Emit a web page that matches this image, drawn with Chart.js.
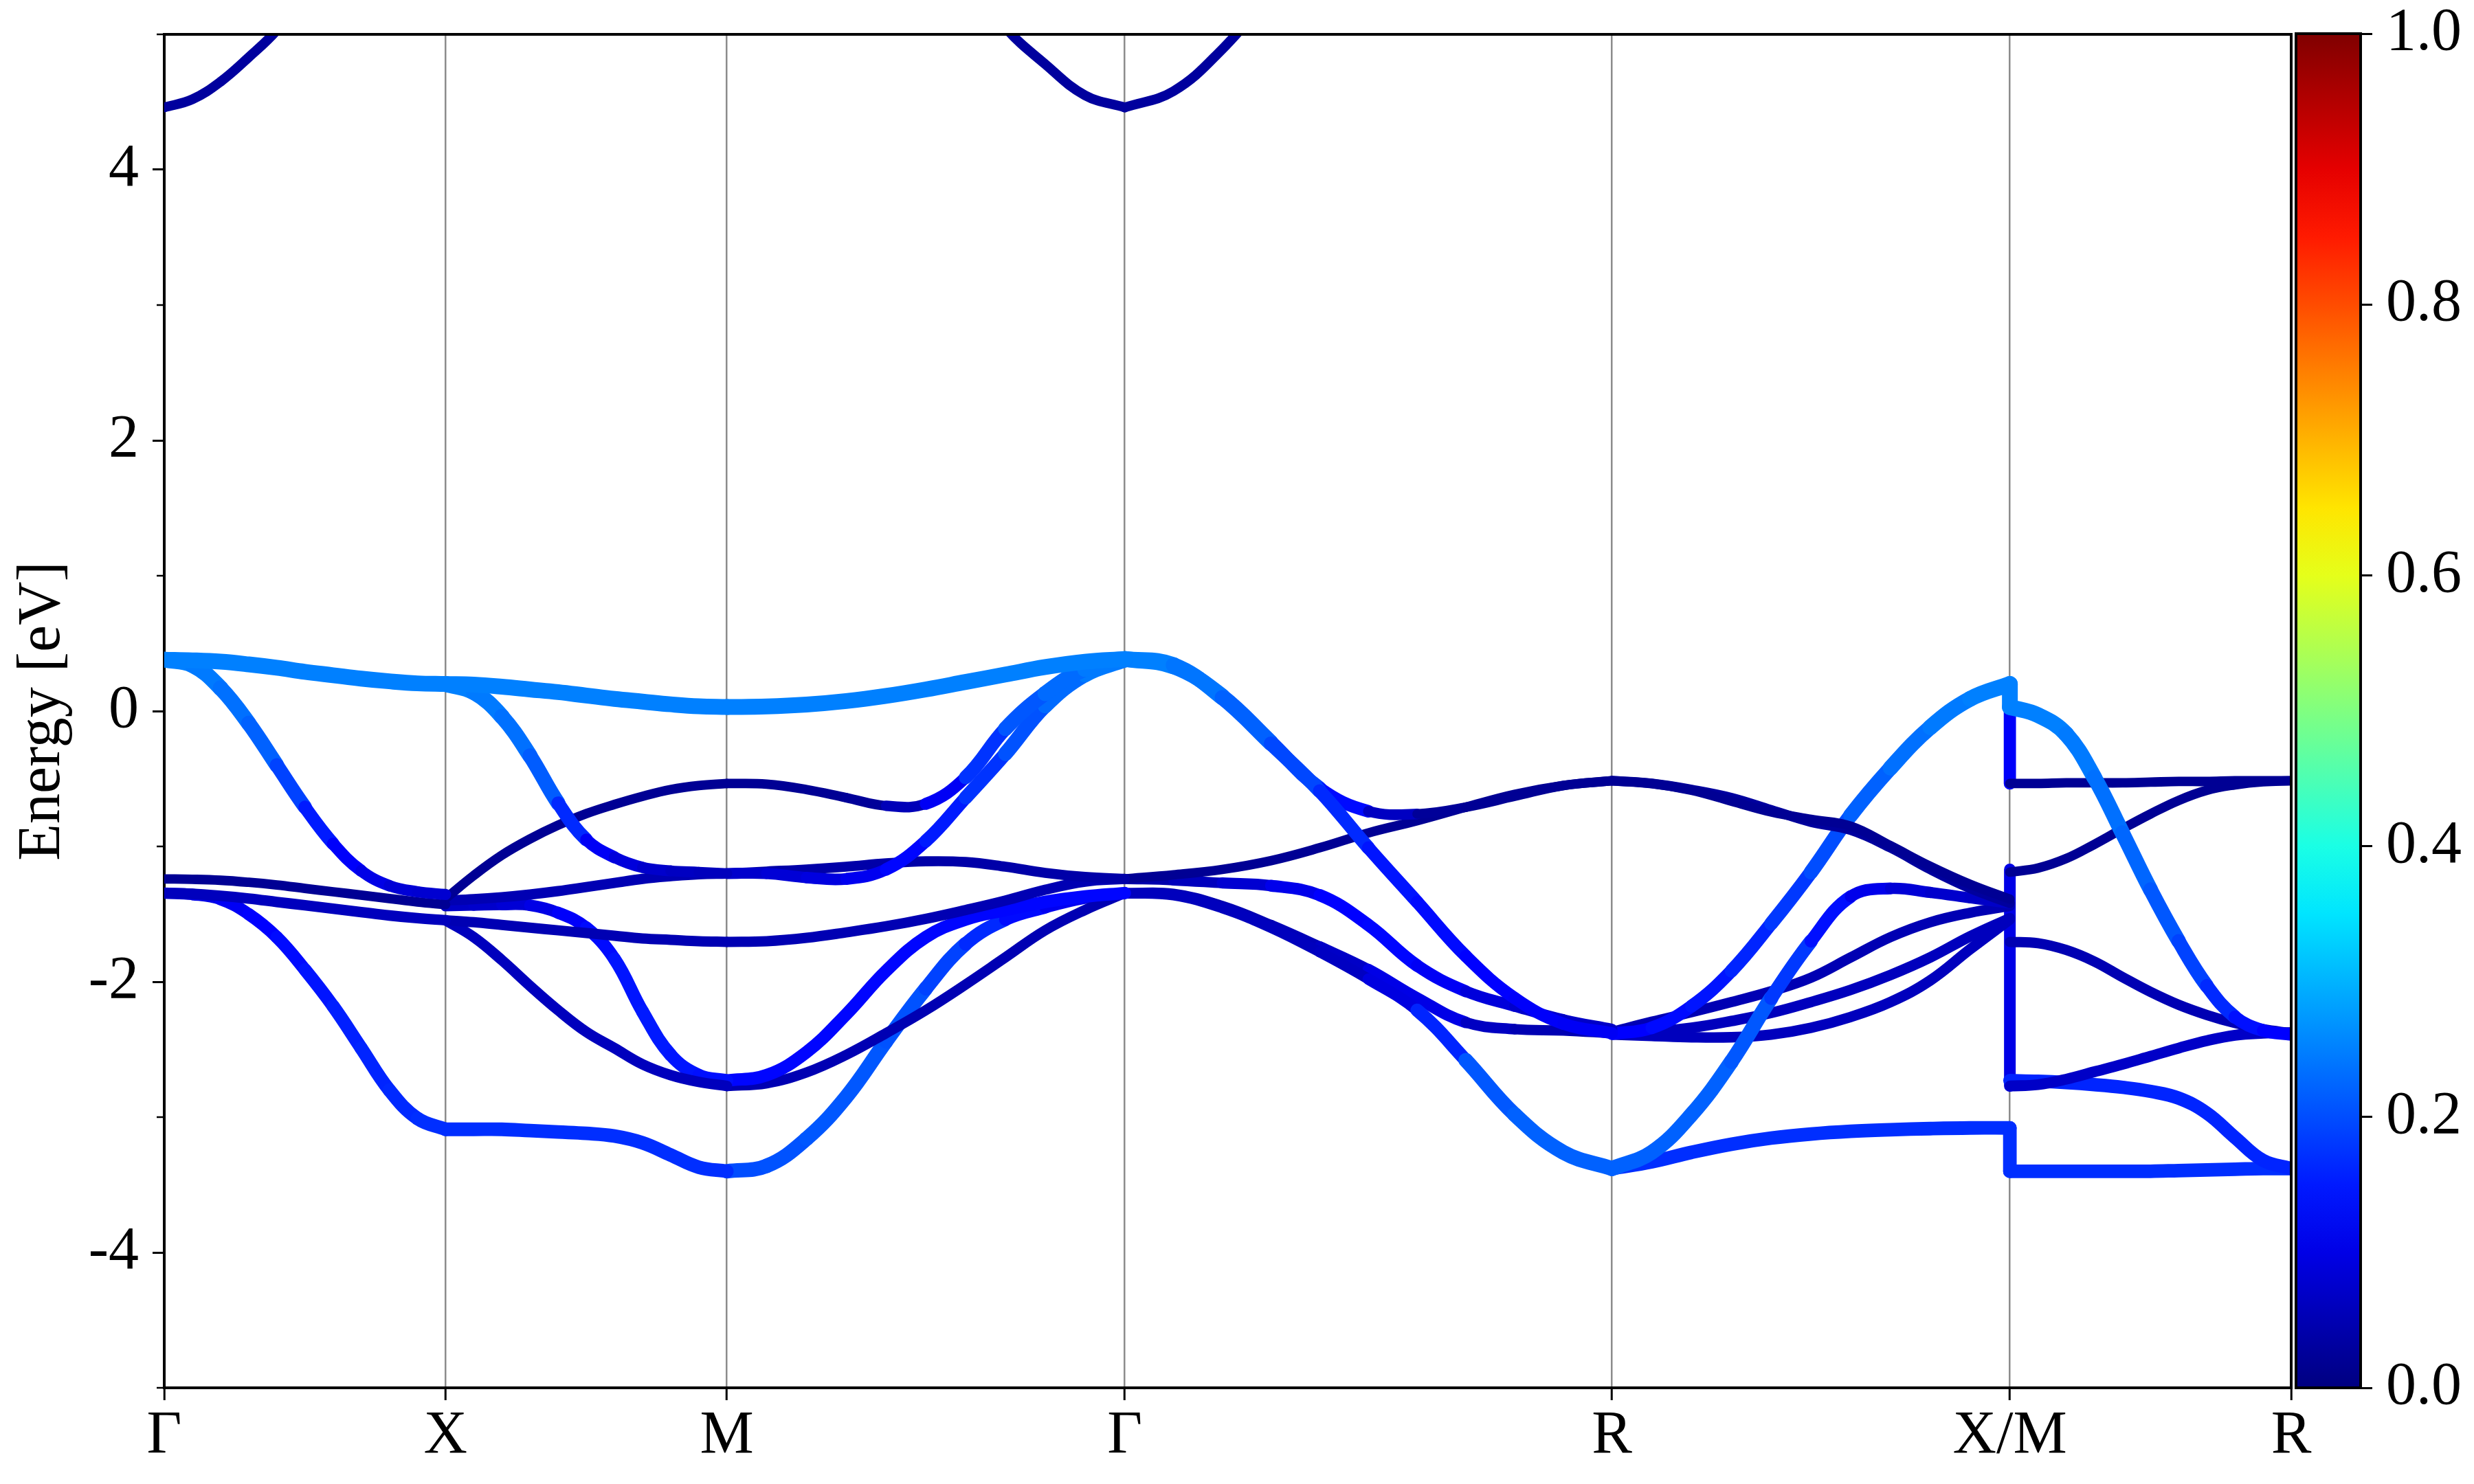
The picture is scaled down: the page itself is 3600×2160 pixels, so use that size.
<!DOCTYPE html>
<html>
<head>
<meta charset="utf-8">
<script src="https://cdn.jsdelivr.net/npm/chart.js@4.4.1/dist/chart.umd.min.js"></script>
<style>
  body { margin: 0; background: #fff; }
  #wrap { position: relative; width: 3600px; height: 2160px; }
  #bandBox { position: absolute; left: 0; top: 0; width: 3600px; height: 2160px; }
  #barBox { position: absolute; left: 3300px; top: 0; width: 300px; height: 2160px; }
</style>
</head>
<body>
<div id="wrap">
  <div id="bandBox"><canvas id="bands"></canvas></div>
  <div id="barBox"><canvas id="colorbar"></canvas></div>
</div>
<script>
const kLabels = ["Γ", "X", "M", "Γ", "R", "X/M", "R"];
const kTicks = [0, 0.5, 1.0, 1.7071, 2.5731, 3.2802, 3.7802];
const energyTicks = [-4, -2, 0, 2, 4];
const colorTicks = [0, 0.2, 0.4, 0.6, 0.8, 1.0];

// path segments: G-X, X-M, M-G, G-R, R-X, M-R
const segStart = [0, 0.5, 1.0, 1.7071, 2.5731, 3.2802];
const segLength = [0.5, 0.5, 0.7071, 0.866, 0.7071, 0.5];
const frac = [0, 0.1, 0.2, 0.3, 0.4, 0.5, 0.6, 0.7, 0.8, 0.9, 1];

const bandsGX = [
  [0.38, 0.375, 0.365, 0.345, 0.32, 0.29, 0.265, 0.24, 0.22, 0.205, 0.20],
  [0.38, 0.34, 0.17, -0.09, -0.40, -0.71, -0.98, -1.18, -1.29, -1.335, -1.355],
  [-1.24, -1.243, -1.25, -1.265, -1.285, -1.31, -1.335, -1.36, -1.385, -1.41, -1.43],
  [-1.345, -1.35, -1.365, -1.385, -1.41, -1.435, -1.46, -1.485, -1.51, -1.53, -1.545],
  [-1.345, -1.355, -1.39, -1.50, -1.67, -1.91, -2.18, -2.49, -2.80, -3.01, -3.09]
];
const weightsGX = [
  [0.25, 0.25, 0.25, 0.25, 0.25, 0.25, 0.25, 0.25, 0.25, 0.25, 0.25],
  [0.25, 0.25, 0.24, 0.23, 0.21, 0.17, 0.13, 0.11, 0.09, 0.08, 0.08],
  [0.02, 0.02, 0.02, 0.02, 0.02, 0.02, 0.02, 0.02, 0.02, 0.02, 0.02],
  [0.06, 0.06, 0.06, 0.06, 0.06, 0.06, 0.06, 0.06, 0.06, 0.06, 0.06],
  [0.08, 0.09, 0.11, 0.12, 0.13, 0.14, 0.15, 0.16, 0.16, 0.17, 0.17]
];

const bandsXM = [
  [0.20, 0.195, 0.18, 0.16, 0.14, 0.115, 0.09, 0.07, 0.05, 0.035, 0.03],
  [0.20, 0.14, -0.04, -0.33, -0.68, -0.95, -1.08, -1.155, -1.18, -1.19, -1.20],
  [-1.385, -1.215, -1.065, -0.945, -0.843, -0.758, -0.69, -0.63, -0.58, -0.55, -0.535],
  [-1.40, -1.39, -1.375, -1.355, -1.33, -1.30, -1.27, -1.24, -1.22, -1.205, -1.20],
  [-1.545, -1.56, -1.58, -1.60, -1.62, -1.64, -1.66, -1.68, -1.69, -1.70, -1.705],
  [-1.545, -1.67, -1.84, -2.03, -2.21, -2.37, -2.49, -2.61, -2.69, -2.74, -2.77],
  [-1.44, -1.435, -1.43, -1.435, -1.49, -1.60, -1.83, -2.22, -2.54, -2.69, -2.73],
  [-3.09, -3.09, -3.09, -3.10, -3.11, -3.12, -3.14, -3.19, -3.28, -3.37, -3.40]
];
const weightsXM = [
  [0.25, 0.25, 0.25, 0.25, 0.25, 0.25, 0.25, 0.25, 0.25, 0.25, 0.25],
  [0.25, 0.25, 0.24, 0.23, 0.20, 0.13, 0.10, 0.08, 0.07, 0.06, 0.06],
  [0.02, 0.02, 0.02, 0.02, 0.02, 0.02, 0.02, 0.02, 0.02, 0.02, 0.02],
  [0.05, 0.05, 0.05, 0.05, 0.05, 0.05, 0.05, 0.05, 0.05, 0.05, 0.05],
  [0.05, 0.05, 0.05, 0.05, 0.05, 0.05, 0.05, 0.05, 0.05, 0.05, 0.05],
  [0.06, 0.06, 0.06, 0.06, 0.06, 0.06, 0.06, 0.06, 0.06, 0.06, 0.06],
  [0.07, 0.07, 0.08, 0.09, 0.11, 0.13, 0.14, 0.15, 0.15, 0.14, 0.14],
  [0.17, 0.17, 0.17, 0.17, 0.17, 0.17, 0.17, 0.17, 0.17, 0.17, 0.17]
];

const bandsMG = [
  [0.03, 0.034, 0.048, 0.074, 0.112, 0.16, 0.215, 0.27, 0.325, 0.365, 0.385],
  [-0.535, -0.54, -0.58, -0.64, -0.70, -0.685, -0.49, -0.13, 0.13, 0.31, 0.38],
  [-1.20, -1.20, -1.23, -1.24, -1.17, -0.96, -0.64, -0.315, 0.04, 0.27, 0.38],
  [-1.20, -1.185, -1.17, -1.15, -1.125, -1.11, -1.115, -1.15, -1.195, -1.225, -1.24],
  [-1.705, -1.70, -1.675, -1.635, -1.59, -1.535, -1.47, -1.40, -1.32, -1.26, -1.24],
  [-2.73, -2.69, -2.52, -2.24, -1.92, -1.67, -1.54, -1.47, -1.41, -1.37, -1.345],
  [-2.77, -2.75, -2.67, -2.54, -2.38, -2.21, -2.02, -1.82, -1.62, -1.47, -1.345],
  [-3.40, -3.36, -3.16, -2.85, -2.44, -2.05, -1.72, -1.54, -1.45, -1.38, -1.345]
];
const weightsMG = [
  [0.25, 0.25, 0.25, 0.25, 0.25, 0.25, 0.25, 0.25, 0.25, 0.25, 0.25],
  [0.02, 0.02, 0.02, 0.02, 0.03, 0.08, 0.15, 0.20, 0.22, 0.24, 0.25],
  [0.07, 0.08, 0.09, 0.10, 0.12, 0.14, 0.16, 0.19, 0.22, 0.24, 0.25],
  [0.04, 0.04, 0.04, 0.04, 0.04, 0.04, 0.04, 0.04, 0.04, 0.04, 0.04],
  [0.05, 0.05, 0.05, 0.05, 0.05, 0.05, 0.05, 0.05, 0.05, 0.05, 0.05],
  [0.13, 0.13, 0.13, 0.13, 0.13, 0.13, 0.13, 0.13, 0.13, 0.13, 0.13],
  [0.05, 0.05, 0.05, 0.05, 0.05, 0.05, 0.05, 0.05, 0.05, 0.05, 0.05],
  [0.20, 0.20, 0.21, 0.21, 0.21, 0.20, 0.18, 0.15, 0.12, 0.10, 0.09]
];

const bandsGR = [
  [0.385, 0.34, 0.10, -0.24, -0.59, -1.01, -1.41, -1.81, -2.12, -2.31, -2.38],
  [0.385, 0.33, 0.11, -0.23, -0.57, -0.74, -0.76, -0.71, -0.63, -0.55, -0.515],
  [-1.24, -1.21, -1.17, -1.105, -1.01, -0.90, -0.81, -0.71, -0.615, -0.55, -0.515],
  [-1.24, -1.25, -1.27, -1.29, -1.36, -1.58, -1.88, -2.07, -2.18, -2.28, -2.35],
  [-1.345, -1.36, -1.455, -1.60, -1.78, -1.98, -2.21, -2.58, -2.98, -3.26, -3.38],
  [-1.345, -1.35, -1.44, -1.58, -1.74, -1.91, -2.12, -2.30, -2.35, -2.36, -2.38]
];
const weightsGR = [
  [0.25, 0.25, 0.23, 0.21, 0.18, 0.15, 0.14, 0.13, 0.12, 0.12, 0.11],
  [0.25, 0.25, 0.23, 0.21, 0.17, 0.10, 0.03, 0.02, 0.02, 0.02, 0.02],
  [0.02, 0.02, 0.02, 0.02, 0.02, 0.02, 0.02, 0.02, 0.02, 0.02, 0.02],
  [0.04, 0.05, 0.07, 0.09, 0.12, 0.13, 0.13, 0.10, 0.08, 0.07, 0.07],
  [0.06, 0.06, 0.06, 0.06, 0.06, 0.07, 0.12, 0.20, 0.22, 0.22, 0.22],
  [0.05, 0.05, 0.05, 0.05, 0.06, 0.08, 0.12, 0.08, 0.05, 0.05, 0.05]
];

const bandsRX = [
  [-0.515, -0.535, -0.585, -0.665, -0.745, -0.80, -0.85, -0.995, -1.147, -1.28, -1.39],
  [-0.515, -0.535, -0.58, -0.64, -0.73, -0.82, -0.88, -1.01, -1.17, -1.31, -1.42],
  [-2.385, -2.34, -2.18, -1.92, -1.57, -1.19, -0.77, -0.42, -0.12, 0.09, 0.20],
  [-3.38, -3.26, -2.98, -2.59, -2.12, -1.70, -1.37, -1.31, -1.34, -1.38, -1.42],
  [-2.37, -2.295, -2.225, -2.15, -2.07, -1.97, -1.82, -1.67, -1.56, -1.49, -1.44],
  [-2.38, -2.37, -2.34, -2.29, -2.23, -2.15, -2.06, -1.95, -1.82, -1.665, -1.53],
  [-2.39, -2.40, -2.41, -2.41, -2.39, -2.34, -2.26, -2.15, -1.99, -1.76, -1.54],
  [-3.38, -3.33, -3.26, -3.20, -3.155, -3.125, -3.105, -3.093, -3.085, -3.08, -3.08]
];
const weightsRX = [
  [0.02, 0.02, 0.02, 0.02, 0.02, 0.02, 0.02, 0.02, 0.02, 0.02, 0.02],
  [0.03, 0.03, 0.03, 0.03, 0.03, 0.03, 0.03, 0.03, 0.03, 0.03, 0.03],
  [0.12, 0.13, 0.14, 0.15, 0.17, 0.19, 0.21, 0.23, 0.24, 0.25, 0.25],
  [0.22, 0.22, 0.22, 0.22, 0.20, 0.16, 0.12, 0.09, 0.08, 0.07, 0.07],
  [0.05, 0.05, 0.05, 0.05, 0.05, 0.05, 0.05, 0.05, 0.05, 0.05, 0.05],
  [0.06, 0.06, 0.06, 0.06, 0.06, 0.06, 0.06, 0.06, 0.06, 0.06, 0.06],
  [0.06, 0.06, 0.06, 0.06, 0.06, 0.06, 0.06, 0.06, 0.06, 0.06, 0.06],
  [0.17, 0.17, 0.17, 0.17, 0.17, 0.17, 0.17, 0.17, 0.17, 0.17, 0.17]
];

const bandsMR = [
  [0.03, -0.03, -0.17, -0.49, -0.90, -1.32, -1.70, -2.03, -2.26, -2.36, -2.39],
  [-0.535, -0.535, -0.53, -0.53, -0.53, -0.525, -0.52, -0.52, -0.515, -0.515, -0.515],
  [-1.19, -1.16, -1.09, -0.985, -0.87, -0.76, -0.66, -0.585, -0.545, -0.522, -0.515],
  [-1.705, -1.715, -1.765, -1.85, -1.965, -2.075, -2.17, -2.245, -2.305, -2.35, -2.38],
  [-2.77, -2.76, -2.72, -2.665, -2.61, -2.55, -2.49, -2.435, -2.395, -2.38, -2.375],
  [-2.73, -2.735, -2.745, -2.76, -2.78, -2.81, -2.86, -2.97, -3.15, -3.32, -3.38],
  [-3.40, -3.40, -3.40, -3.40, -3.40, -3.40, -3.395, -3.39, -3.385, -3.38, -3.38]
];
const weightsMR = [
  [0.25, 0.25, 0.25, 0.24, 0.23, 0.22, 0.20, 0.18, 0.15, 0.13, 0.12],
  [0.02, 0.02, 0.02, 0.02, 0.02, 0.02, 0.02, 0.02, 0.02, 0.02, 0.02],
  [0.02, 0.02, 0.02, 0.02, 0.02, 0.02, 0.02, 0.02, 0.02, 0.02, 0.02],
  [0.05, 0.05, 0.05, 0.05, 0.05, 0.05, 0.05, 0.05, 0.05, 0.05, 0.05],
  [0.07, 0.07, 0.07, 0.07, 0.07, 0.07, 0.07, 0.07, 0.07, 0.07, 0.07],
  [0.16, 0.16, 0.16, 0.16, 0.16, 0.16, 0.16, 0.16, 0.16, 0.16, 0.16],
  [0.17, 0.17, 0.17, 0.17, 0.17, 0.17, 0.17, 0.17, 0.17, 0.17, 0.17]
];

// conduction band (only the part below 5 eV shows)
const cbFracGX = [0, 0.1, 0.2, 0.3, 0.4, 0.5];
const cbGX = [4.46, 4.52, 4.65, 4.83, 5.03, 5.3];
const cbFracMG = [0.6, 0.7, 0.8, 0.9, 1.0];
const cbMG = [5.45, 5.05, 4.78, 4.55, 4.46];
const cbFracGR = [0, 0.1, 0.2, 0.3];
const cbGR = [4.46, 4.58, 4.89, 5.3];
const cbWeight = 0.03;

// vertical steps at the X/M break
const jumpFrom = [0.20, 0.03, -1.17, -3.08];
const jumpTo = [0.03, -0.535, -2.77, -3.40];
const jumpWeight = [0.25, 0.12, 0.10, 0.17];

const FONT = "'Liberation Serif', 'Times New Roman', serif";

function clamp01(v) { return Math.max(0, Math.min(1, v)); }
function jet(v) {
  const r = clamp01(Math.min(4 * v - 1.5, -4 * v + 4.5));
  const g = clamp01(Math.min(4 * v - 0.5, -4 * v + 3.5));
  const b = clamp01(Math.min(4 * v + 0.5, -4 * v + 2.5));
  return `rgb(${Math.round(r * 255)}, ${Math.round(g * 255)}, ${Math.round(b * 255)})`;
}
function lineWidth(w) { return 13 + 40 * w; }

function makeDataset(points, weights, smooth) {
  const avg = c => (weights[c.p0DataIndex] + weights[c.p1DataIndex]) / 2;
  return {
    data: points,
    borderColor: jet(weights[0]),
    borderWidth: lineWidth(weights[0]),
    borderCapStyle: "round",
    borderJoinStyle: "round",
    pointRadius: 0,
    fill: false,
    clip: 0,
    tension: smooth ? 0.4 : 0,
    segment: {
      borderColor: c => jet(avg(c)),
      borderWidth: c => lineWidth(avg(c))
    }
  };
}

const datasets = [];
const segBands = [bandsGX, bandsXM, bandsMG, bandsGR, bandsRX, bandsMR];
const segWeights = [weightsGX, weightsXM, weightsMG, weightsGR, weightsRX, weightsMR];
segBands.forEach((bands, s) => {
  bands.forEach((band, b) => {
    const pts = band.map((e, i) => ({ x: segStart[s] + frac[i] * segLength[s], y: e }));
    datasets.push(makeDataset(pts, segWeights[s][b], true));
  });
});

function cbPoints(seg, fr, vals) {
  return vals.map((e, i) => ({ x: segStart[seg] + fr[i] * segLength[seg], y: e }));
}
[[0, cbFracGX, cbGX], [2, cbFracMG, cbMG], [3, cbFracGR, cbGR]].forEach(([s, fr, vals]) => {
  datasets.push(makeDataset(cbPoints(s, fr, vals), vals.map(() => cbWeight), true));
});

jumpFrom.forEach((e, j) => {
  const pts = [{ x: kTicks[5], y: e }, { x: kTicks[5], y: jumpTo[j] }];
  datasets.push(makeDataset(pts, [jumpWeight[j], jumpWeight[j]], false));
});

const frame = {
  id: "frame",
  afterDraw(chart) {
    const { ctx, chartArea: a, scales } = chart;
    ctx.save();
    ctx.strokeStyle = "#000";
    ctx.lineWidth = 4;
    ctx.beginPath();
    ctx.moveTo(a.left - 2, a.top);
    ctx.lineTo(a.right, a.top);
    ctx.lineTo(a.right, a.bottom + 2);
    ctx.stroke();
    // minor ticks on the energy axis
    ctx.lineWidth = 2.5;
    [-5, -3, -1, 1, 3, 5].forEach(v => {
      const y = scales.y.getPixelForValue(v);
      ctx.beginPath();
      ctx.moveTo(a.left - 11, y);
      ctx.lineTo(a.left - 2, y);
      ctx.stroke();
    });
    ctx.restore();
  }
};

new Chart(document.getElementById("bands"), {
  type: "line",
  data: { datasets: datasets },
  options: {
    responsive: true,
    maintainAspectRatio: false,
    devicePixelRatio: 1,
    animation: false,
    events: [],
    layout: { padding: { left: 0, top: 50, right: 266, bottom: 0 } },
    plugins: { legend: { display: false }, tooltip: { enabled: false } },
    scales: {
      x: {
        type: "linear",
        min: kTicks[0],
        max: kTicks[kTicks.length - 1],
        afterBuildTicks: scale => { scale.ticks = kTicks.map(v => ({ value: v })); },
        afterFit: scale => {
          scale.height = 140;
          scale.paddingLeft = 0;
          scale.paddingRight = 0;
        },
        ticks: {
          autoSkip: false,
          maxRotation: 0,
          padding: 0,
          color: "#000",
          font: { family: FONT, size: 88 },
          callback: (v, i) => kLabels[i]
        },
        grid: { color: "#8c8c8c", lineWidth: 2.5, tickColor: "#000", tickWidth: 3, tickLength: 18 },
        border: { display: true, color: "#000", width: 4 }
      },
      y: {
        type: "linear",
        min: -5,
        max: 5,
        afterBuildTicks: scale => { scale.ticks = energyTicks.map(v => ({ value: v })); },
        afterFit: scale => {
          scale.width = 239;
          scale.paddingTop = 0;
          scale.paddingBottom = 0;
        },
        ticks: {
          autoSkip: false,
          padding: 20,
          color: "#000",
          font: { family: FONT, size: 88 },
          callback: v => String(v)
        },
        grid: { drawOnChartArea: false, tickColor: "#000", tickWidth: 3, tickLength: 17 },
        border: { display: true, color: "#000", width: 4 },
        title: {
          display: true,
          text: "Energy [eV]",
          color: "#000",
          font: { family: FONT, size: 88 },
          padding: { top: 10, bottom: 0 }
        }
      }
    }
  },
  plugins: [frame]
});

const barFrame = {
  id: "barFrame",
  afterDraw(chart) {
    const { ctx, chartArea: a } = chart;
    ctx.save();
    ctx.strokeStyle = "#000";
    ctx.lineWidth = 4;
    ctx.strokeRect(a.left, a.top, a.right - a.left, a.bottom - a.top);
    ctx.restore();
  }
};

new Chart(document.getElementById("colorbar"), {
  type: "bar",
  data: {
    labels: [""],
    datasets: [{
      data: [1],
      barPercentage: 1,
      categoryPercentage: 1,
      borderWidth: 0,
      backgroundColor: c => {
        const a = c.chart.chartArea;
        if (!a) return "transparent";
        const g = c.chart.ctx.createLinearGradient(0, a.bottom, 0, a.top);
        for (let i = 0; i <= 20; i++) g.addColorStop(i / 20, jet(i / 20));
        return g;
      }
    }]
  },
  options: {
    responsive: true,
    maintainAspectRatio: false,
    devicePixelRatio: 1,
    animation: false,
    events: [],
    layout: { padding: { left: 41, top: 49, right: 0, bottom: 140 } },
    plugins: { legend: { display: false }, tooltip: { enabled: false } },
    scales: {
      x: { display: false },
      y: {
        position: "right",
        min: 0,
        max: 1,
        afterBuildTicks: scale => { scale.ticks = colorTicks.map(v => ({ value: v })); },
        afterFit: scale => {
          scale.width = 165;
          scale.paddingTop = 0;
          scale.paddingBottom = 0;
        },
        ticks: {
          autoSkip: false,
          padding: 20,
          color: "#000",
          font: { family: FONT, size: 88 },
          callback: v => Number(v).toFixed(1)
        },
        grid: { drawOnChartArea: false, tickColor: "#000", tickWidth: 3, tickLength: 17 },
        border: { display: true, color: "#000", width: 4 }
      }
    }
  },
  plugins: [barFrame]
});
</script>
</body>
</html>
